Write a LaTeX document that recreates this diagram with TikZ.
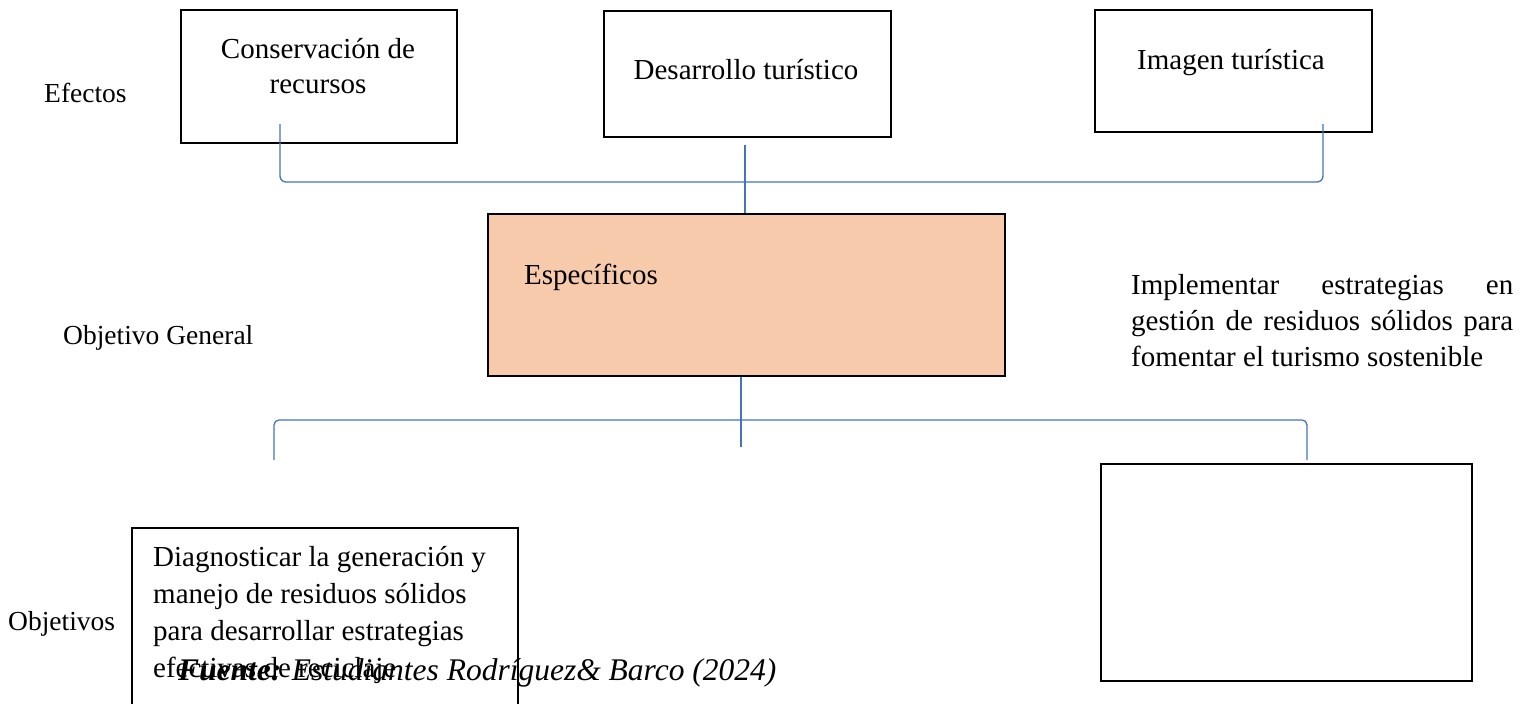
\documentclass[tikz,border=0pt]{standalone}
\usepackage{fontspec}
\setmainfont{Liberation Serif}
\usetikzlibrary{positioning}

\definecolor{linkblue}{HTML}{4472C4}
\definecolor{peach}{HTML}{F7CAAC}

\tikzset{
  box/.style={draw=black,line width=2pt,inner sep=0pt,anchor=north west},
  txt/.style={inner sep=0pt,font=\fontsize{29}{36}\selectfont},
  side/.style={inner sep=0pt,anchor=base west,font=\fontsize{27.5}{36}\selectfont},
  link/.style={draw=linkblue,line width=1.3pt}
}

\begin{document}
\begin{tikzpicture}[x=1pt,y=-1pt]
        \useasboundingbox (0, 0) rectangle (1527, 704);
        \clip (0, 0) rectangle (1527, 704);
        % boxes
        \node[box,minimum width=276pt,minimum height=133pt](cons)at(180, 9){};
        \node[box,minimum width=287pt,minimum height=126pt](desa)at(603, 10){};
        \node[box,minimum width=277pt,minimum height=122pt](imag)at(1094, 9){};
        \node[box,fill=peach,minimum width=517pt,minimum height=162pt](espec)at(487, 213){};
        \node[box,line width=1.5pt,minimum width=386pt,minimum height=220pt](diag)at(131, 527){};
        \node[box,minimum width=371pt,minimum height=217pt](blank)at(1100, 463){};
        % texts (align nodes sit on their last baseline, text width ones on the first)
        \node[side](efectos)at(44, 102){Efectos};
        \node[side](general)at(63, 344){Objetivo General};
        \node[side](objetivos)at(8, 630){Objetivos};
        \node[txt,anchor=base,align=center,font=\fontsize{29}{35}\selectfont](cons-txt)at(318, 93){Conservación de\\recursos};
        \node[txt,anchor=base](desa-txt)at(746, 79){Desarrollo turístico};
        \node[txt,anchor=base](imag-txt)at(1231, 69){Imagen turística};
        \node[txt,anchor=base west](espec-txt)at(524, 284){Específicos};
        \node[txt,anchor=base west,text width=382pt,align=justify](impl-txt)at(1131, 294){Implementar estrategias en\linebreak gestión de residuos sólidos para\linebreak fomentar el turismo sostenible};
        \node[txt,anchor=base west,align=left,font=\fontsize{29}{37}\selectfont](diag-txt)at(153, 677){Diagnosticar la generación y\\manejo de residuos sólidos\\para desarrollar estrategias\\efectivas de reciclaje};
        \node[txt,anchor=base west,font=\fontsize{31.5}{36}\selectfont](fuente)at(178, 680){\textbf{\textit{Fuente:}} \textit{Estudiantes Rodríguez\& Barco (2024)}};
        % connectors
        \coordinate (cons-foot) at (280, 124);
        \coordinate (top-bar) at (745, 182);
        \coordinate (imag-foot) at (1323, 124);
        \coordinate (top-stem) at (745, 145);
        \coordinate (bot-stem) at (741, 447);
        \coordinate (bot-bar) at (741, 420);
        \coordinate (diag-foot) at (274, 460);
        \coordinate (blank-foot) at (1307, 460);
        \path[link,rounded corners=6pt](cons-foot) |- (top-bar) -| (imag-foot);
        \path[link](top-stem) -- (top-stem |- espec.north);
        \path[link,rounded corners=5pt](diag-foot) |- (bot-bar) -| (blank-foot);
        \path[link](bot-stem |- espec.south) -- (bot-stem);
    \end{tikzpicture}
\end{document}
